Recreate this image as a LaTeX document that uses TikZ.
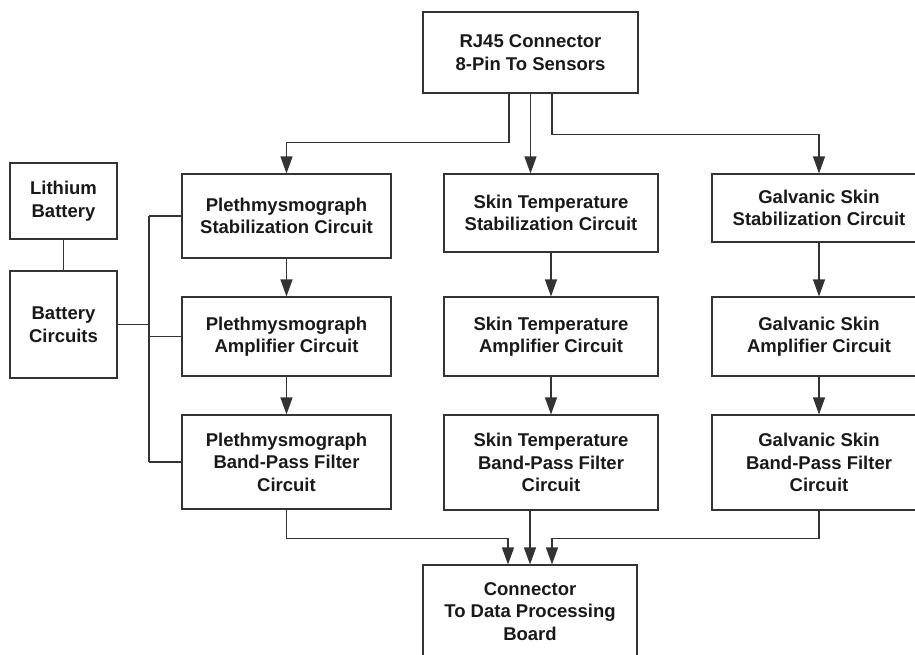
\documentclass[tikz,border=0pt]{standalone}
\usepackage{fontspec}
\setmainfont{Liberation Sans}
\usepackage{tikz}
\usetikzlibrary{arrows.meta,positioning,calc}

\begin{document}
\begin{tikzpicture}[
    x=1pt, y=-1pt,
    block/.style={rectangle, draw=black!80, line width=1.1pt, font=\fontsize{18.5}{22.5}\selectfont\bfseries, text=black!90, align=center, inner sep=0pt, minimum width=#1},
    block/.default=214pt,
    arr/.style={-{Triangle[length=17pt,width=12pt]}, line width=1.2pt, color=black!80},
    wire/.style={line width=1.1pt, color=black!80}
]
    \useasboundingbox (0,0) rectangle (915,655);

    % Sensor connector on top
    \node[block=215pt, minimum height=81pt] (rj45) at (530.5,52.5) {RJ45 Connector\\8-Pin To Sensors};

    % Power supply (left)
    \node[block=107pt, minimum height=76pt] (lith) at (63.5,201) {Lithium\\Battery};
    \node[block=107pt, minimum height=107pt] (batt) at (63.5,324.5) {Battery\\Circuits};

    % Plethmysmograph chain
    \node[block=209pt, minimum height=84pt] (pstab) at (286.5,216) {Plethmysmograph\\Stabilization Circuit};
    \node[block=209pt, minimum height=79pt] (pamp) at (286.5,336.5) {Plethmysmograph\\Amplifier Circuit};
    \node[block=209pt, minimum height=94pt] (pbpf) at (286.5,462) {Plethmysmograph\\Band-Pass Filter\\Circuit};

    % Skin temperature chain
    \node[block, minimum height=78pt] (sstab) at (551,213) {Skin Temperature\\Stabilization Circuit};
    \node[block, minimum height=79pt] (samp) at (551,336.5) {Skin Temperature\\Amplifier Circuit};
    \node[block, minimum height=95pt] (sbpf) at (551,462.5) {Skin Temperature\\Band-Pass Filter\\Circuit};

    % Galvanic skin chain
    \node[block, minimum height=68pt] (gstab) at (819,208) {Galvanic Skin\\Stabilization Circuit};
    \node[block, minimum height=79pt] (gamp) at (819,336.5) {Galvanic Skin\\Amplifier Circuit};
    \node[block, minimum height=95pt] (gbpf) at (819,462.5) {Galvanic Skin\\Band-Pass Filter\\Circuit};

    % Output connector
    \node[block, minimum height=93pt] (conn) at (530,611.5) {Connector\\To Data Processing\\Board};

    % Battery bus
    \coordinate (bus) at (149,0);
    \draw[wire] (lith) -- (batt);
    \draw[wire, line width=1.8pt] (batt.east) -- (bus |- batt.east);
    \draw[wire] (bus |- pstab.west) -- (bus |- pbpf.west);
    \foreach \n in {pstab,pamp,pbpf}
        \draw[wire] (bus |- \n.west) -- (\n.west);

    % Sensor lines
    \draw[arr] ([xshift=-21.5pt]rj45.south) -- ++(0,49) -| (pstab.north);
    \draw[arr] (rj45.south) -- (rj45.south |- sstab.north);
    \draw[arr] ([xshift=21.5pt]rj45.south) -- ++(0,41) -| (gstab.north);

    % Stages
    \foreach \a/\b in {pstab/pamp, pamp/pbpf, sstab/samp, samp/sbpf, gstab/gamp, gamp/gbpf}
        \draw[arr] (\a) -- (\b);

    % To output
    \draw[arr] (pbpf.south) -- ++(0,29) -| ([xshift=-22pt]conn.north);
    \draw[arr] (conn.north |- sbpf.south) -- (conn.north);
    \draw[arr] (gbpf.south) -- ++(0,28) -| ([xshift=22pt]conn.north);

\end{tikzpicture}
\end{document}
